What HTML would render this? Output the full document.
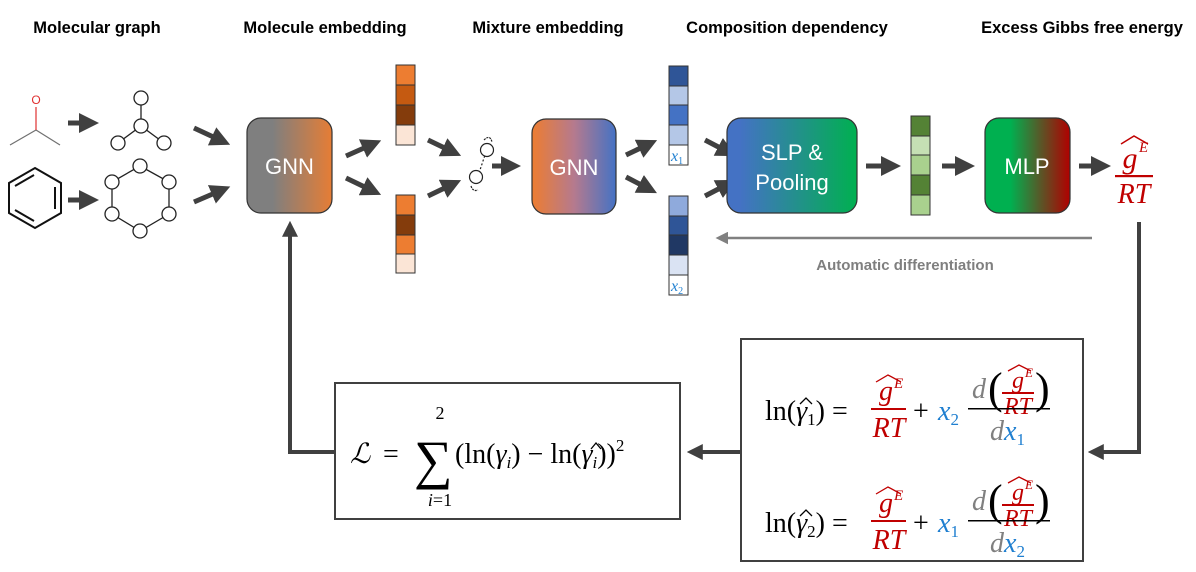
<!DOCTYPE html>
<html><head><meta charset="utf-8"><style>
body{margin:0;background:#fff}
svg{display:block}
.t{font-family:"Liberation Sans",sans-serif;font-weight:bold;font-size:16.5px;fill:#000}
.m{font-family:"Liberation Serif",serif;font-style:italic}
.r{font-family:"Liberation Serif",serif}
.bx{font-family:"Liberation Sans",sans-serif;font-size:22px;fill:#fff}
</style></head><body>
<svg width="1196" height="572" viewBox="0 0 1196 572" xmlns="http://www.w3.org/2000/svg">
<defs>
<marker id="a" markerWidth="4" markerHeight="4" refX="2.2" refY="2" orient="auto" markerUnits="strokeWidth"><path d="M0,0 L4,2 L0,4 z" fill="#404040"/></marker>
<marker id="g" markerWidth="5" markerHeight="5" refX="0" refY="2.5" orient="auto" markerUnits="strokeWidth"><path d="M0,0 L5,2.5 L0,5 z" fill="#808080"/></marker>
<linearGradient id="g1"><stop offset="0.3" stop-color="#7f7f7f"/><stop offset="1" stop-color="#e67d35"/></linearGradient>
<linearGradient id="g2"><stop offset="0" stop-color="#ed7d31"/><stop offset="0.5" stop-color="#b57a8e"/><stop offset="1" stop-color="#4472c4"/></linearGradient>
<linearGradient id="g3"><stop offset="0.1" stop-color="#4472c4"/><stop offset="1" stop-color="#00b050"/></linearGradient>
<linearGradient id="g4"><stop offset="0.3" stop-color="#00b050"/><stop offset="1" stop-color="#b00000"/></linearGradient>
</defs>
<text class="t" x="97" y="33" text-anchor="middle">Molecular graph</text>
<text class="t" x="325" y="33" text-anchor="middle">Molecule embedding</text>
<text class="t" x="548" y="33" text-anchor="middle">Mixture embedding</text>
<text class="t" x="787" y="33" text-anchor="middle">Composition dependency</text>
<text class="t" x="1082" y="33" text-anchor="middle">Excess Gibbs free energy</text>

<!-- acetone -->
<text x="36" y="104" font-family="Liberation Sans" font-size="12" fill="#e03030" text-anchor="middle">O</text>
<g stroke="#707070" stroke-width="1.2"><line x1="10" y1="145" x2="36" y2="130"/><line x1="36" y1="130" x2="60" y2="145"/></g>
<line x1="36" y1="107" x2="36" y2="130" stroke="#e03030" stroke-width="1.2"/>
<!-- benzene -->
<g stroke="#111" stroke-width="2" fill="none">
<polygon points="35,168 61,183 61,213 35,228 9,213 9,183"/>
<line x1="55" y1="187" x2="55" y2="209"/><line x1="34" y1="175" x2="15" y2="186"/><line x1="34" y1="221" x2="15" y2="210"/></g>
<!-- graph1 -->
<g stroke="#222" stroke-width="1.3" fill="#fff">
<line x1="141" y1="98" x2="141" y2="126"/><line x1="141" y1="126" x2="118" y2="143"/><line x1="141" y1="126" x2="164" y2="143"/>
<circle cx="141" cy="98" r="7"/><circle cx="141" cy="126" r="7"/><circle cx="118" cy="143" r="7"/><circle cx="164" cy="143" r="7"/>
<polygon points="140,166 169,182 169,214 140,231 112,214 112,182" fill="none"/>
<circle cx="140" cy="166" r="7"/><circle cx="169" cy="182" r="7"/><circle cx="169" cy="214" r="7"/><circle cx="140" cy="231" r="7"/><circle cx="112" cy="214" r="7"/><circle cx="112" cy="182" r="7"/>
</g>
<!-- arrows -->
<g stroke="#404040" stroke-width="5" marker-end="url(#a)">
<line x1="68" y1="123" x2="90" y2="123"/><line x1="68" y1="200" x2="90" y2="200"/>
<line x1="194" y1="128" x2="222" y2="141"/><line x1="194" y1="202" x2="222" y2="190"/>
<line x1="346" y1="156" x2="373" y2="144"/><line x1="346" y1="178" x2="373" y2="191"/>
<line x1="428" y1="140" x2="453" y2="152"/><line x1="428" y1="196" x2="453" y2="184"/>
<line x1="492" y1="166" x2="512" y2="166"/>
<line x1="626" y1="155" x2="649" y2="144"/><line x1="626" y1="177" x2="649" y2="189"/>
<line x1="705" y1="140" x2="728" y2="152"/><line x1="705" y1="196" x2="728" y2="184"/>
<line x1="866" y1="166" x2="892" y2="166"/><line x1="942" y1="166" x2="966" y2="166"/><line x1="1079" y1="166" x2="1102" y2="166"/>
</g>
<!-- boxes -->
<rect x="247" y="118" width="85" height="95" rx="14" fill="url(#g1)" stroke="#333" stroke-width="1.2"/>
<text class="bx" x="289.5" y="174" text-anchor="middle">GNN</text>
<rect x="532" y="119" width="84" height="95" rx="14" fill="url(#g2)" stroke="#333" stroke-width="1.2"/>
<text class="bx" x="574" y="175" text-anchor="middle">GNN</text>
<rect x="727" y="118" width="130" height="95" rx="14" fill="url(#g3)" stroke="#333" stroke-width="1.2"/>
<text class="bx" x="792" y="160" text-anchor="middle">SLP &amp;</text>
<text class="bx" x="792" y="190" text-anchor="middle">Pooling</text>
<rect x="985" y="118" width="85" height="95" rx="14" fill="url(#g4)" stroke="#333" stroke-width="1.2"/>
<text class="bx" x="1027" y="174" text-anchor="middle">MLP</text>
<!-- vectors -->
<g stroke="#333" stroke-width="1">
<rect x="396" y="65" width="19" height="20" fill="#ed7d31"/><rect x="396" y="85" width="19" height="20" fill="#c55a11"/><rect x="396" y="105" width="19" height="20" fill="#843c0c"/><rect x="396" y="125" width="19" height="20" fill="#fbe5d6"/>
<rect x="396" y="195" width="19" height="20" fill="#ed7d31"/><rect x="396" y="215" width="19" height="20" fill="#843c0c"/><rect x="396" y="235" width="19" height="19" fill="#ed7d31"/><rect x="396" y="254" width="19" height="19" fill="#fbe5d6"/>
<rect x="669" y="66" width="19" height="20" fill="#2f5597"/><rect x="669" y="86" width="19" height="19" fill="#b4c7e7"/><rect x="669" y="105" width="19" height="20" fill="#4472c4"/><rect x="669" y="125" width="19" height="20" fill="#b4c7e7"/><rect x="669" y="145" width="19" height="20" fill="#fff"/>
<rect x="669" y="196" width="19" height="20" fill="#8faadc"/><rect x="669" y="216" width="19" height="19" fill="#2f5597"/><rect x="669" y="235" width="19" height="20" fill="#203864"/><rect x="669" y="255" width="19" height="20" fill="#dae3f3"/><rect x="669" y="275" width="19" height="20" fill="#fff"/>
<rect x="911" y="116" width="19" height="20" fill="#548235"/><rect x="911" y="136" width="19" height="19" fill="#c5e0b4"/><rect x="911" y="155" width="19" height="20" fill="#a9d18e"/><rect x="911" y="175" width="19" height="20" fill="#548235"/><rect x="911" y="195" width="19" height="20" fill="#a9d18e"/>
</g>
<text x="671" y="161" class="m" font-size="16" fill="#1f7fd0">x<tspan font-size="10" font-style="normal" dy="3">1</tspan></text>
<text x="671" y="291" class="m" font-size="16" fill="#1f7fd0">x<tspan font-size="10" font-style="normal" dy="3">2</tspan></text>
<!-- mixture graph -->
<g stroke="#222" stroke-width="1.2" fill="#fff">
<line x1="486" y1="152" x2="478" y2="176" stroke-dasharray="2,2"/>
<path d="M484,140 q6,-6 8,2" fill="none" stroke-dasharray="2,1"/><path d="M471,186 q2,6 7,4" fill="none" stroke-dasharray="2,1"/>
<circle cx="487" cy="150" r="6.5"/><circle cx="476" cy="177" r="6.5"/>
</g>
<!-- gE/RT -->
<g fill="#c00000">
<text x="1130" y="168" class="m" font-size="30" text-anchor="middle">g</text>
<text x="1139" y="152" class="m" font-size="15">E</text>
<path d="M1121,144 L1134,136 L1148,144" stroke="#c00000" fill="none" stroke-width="1.5"/>
<rect x="1115" y="175" width="38" height="2.2"/>
<text x="1134" y="203" class="m" font-size="28" text-anchor="middle">RT</text>
</g>
<!-- auto diff -->
<line x1="1092" y1="238" x2="728" y2="238" stroke="#808080" stroke-width="2.5" marker-end="url(#g)"/>
<text x="905" y="270" font-family="Liberation Sans" font-weight="bold" font-size="15" fill="#7f7f7f" text-anchor="middle">Automatic differentiation</text>
<!-- feedback lines -->
<polyline points="1139,222 1139,452 1095,452" stroke="#404040" stroke-width="4" fill="none" marker-end="url(#a)"/>
<line x1="741" y1="452" x2="694" y2="452" stroke="#404040" stroke-width="4" marker-end="url(#a)"/>
<polyline points="335,452 290,452 290,228" stroke="#404040" stroke-width="4" fill="none" marker-end="url(#a)"/>
<rect x="741" y="339" width="342" height="222" fill="#fff" stroke="#404040" stroke-width="2"/>
<rect x="335" y="383" width="345" height="136" fill="#fff" stroke="#404040" stroke-width="2"/>
<!-- loss -->
<g font-size="28">
<text x="350" y="463" class="m">ℒ</text><text x="383" y="463" class="r">=</text>
<text x="414" y="478" class="r" font-size="54">∑</text>
<text x="440" y="419" class="r" font-size="18" text-anchor="middle">2</text>
<text x="440" y="506" class="m" font-size="18" text-anchor="middle">i<tspan font-style="normal">=1</tspan></text>
<text x="455" y="463" class="r">(ln(<tspan font-style="italic">γ</tspan><tspan font-style="italic" font-size="17" dy="5">i</tspan><tspan dy="-5">) − ln(</tspan><tspan font-style="italic">γ</tspan><tspan font-style="italic" font-size="17" dy="5">i</tspan><tspan dy="-5">))</tspan><tspan font-size="17" dy="-12">2</tspan></text>
<path d="M591,449 L596,443 L601,449" stroke="#000" fill="none" stroke-width="1.3"/>
</g>
<!-- eqs -->
<g font-size="28">
<text x="765" y="420" class="r">ln(<tspan font-style="italic">γ</tspan><tspan font-size="17" dy="5">1</tspan><tspan dy="-5">) =</tspan></text>
<path d="M800,404 L806,398 L812,404" stroke="#000" fill="none" stroke-width="1.3"/>
<text x="765" y="532" class="r">ln(<tspan font-style="italic">γ</tspan><tspan font-size="17" dy="5">2</tspan><tspan dy="-5">) =</tspan></text>
<path d="M800,516 L806,510 L812,516" stroke="#000" fill="none" stroke-width="1.3"/>
<g fill="#c00000">
<text x="886" y="400" class="m" text-anchor="middle">g</text><text x="894" y="388" class="m" font-size="15">E</text>
<path d="M876,382 L888,375 L901,382" stroke="#c00000" fill="none" stroke-width="1.3"/>
<rect x="871" y="408" width="35" height="2"/><text x="889" y="437" class="m" text-anchor="middle">RT</text>
<text x="886" y="512" class="m" text-anchor="middle">g</text><text x="894" y="500" class="m" font-size="15">E</text>
<path d="M876,494 L888,487 L901,494" stroke="#c00000" fill="none" stroke-width="1.3"/>
<rect x="871" y="520" width="35" height="2"/><text x="889" y="549" class="m" text-anchor="middle">RT</text>
<text x="1018" y="388" class="m" font-size="24" text-anchor="middle">g</text><text x="1025" y="377" class="m" font-size="13">E</text>
<path d="M1008,371 L1019,365 L1031,371" stroke="#c00000" fill="none" stroke-width="1.3"/>
<rect x="1002" y="392" width="32" height="2"/><text x="1018" y="414" class="m" font-size="24" text-anchor="middle">RT</text>
<text x="1018" y="500" class="m" font-size="24" text-anchor="middle">g</text><text x="1025" y="489" class="m" font-size="13">E</text>
<path d="M1008,483 L1019,477 L1031,483" stroke="#c00000" fill="none" stroke-width="1.3"/>
<rect x="1002" y="504" width="32" height="2"/><text x="1018" y="526" class="m" font-size="24" text-anchor="middle">RT</text>
</g>
<text x="913" y="420" class="r">+</text><text x="913" y="532" class="r">+</text>
<text x="938" y="420" class="m" fill="#1f7fd0">x<tspan font-size="17" font-style="normal" dy="5">2</tspan></text>
<text x="938" y="532" class="m" fill="#1f7fd0">x<tspan font-size="17" font-style="normal" dy="5">1</tspan></text>
<text x="972" y="398" class="m" fill="#808080">d</text><text x="972" y="510" class="m" fill="#808080">d</text>
<text x="988" y="403" class="r" font-size="44">(</text><text x="1035" y="403" class="r" font-size="44">)</text>
<text x="988" y="515" class="r" font-size="44">(</text><text x="1035" y="515" class="r" font-size="44">)</text>
<rect x="968" y="408" width="82" height="1.5" fill="#000"/><rect x="968" y="520" width="82" height="1.5" fill="#000"/>
<text x="990" y="440" class="m" fill="#808080">d<tspan fill="#1f7fd0">x</tspan><tspan fill="#1f7fd0" font-style="normal" font-size="17" dy="5">1</tspan></text>
<text x="990" y="552" class="m" fill="#808080">d<tspan fill="#1f7fd0">x</tspan><tspan fill="#1f7fd0" font-style="normal" font-size="17" dy="5">2</tspan></text>
</g>
</svg>
</body></html>
